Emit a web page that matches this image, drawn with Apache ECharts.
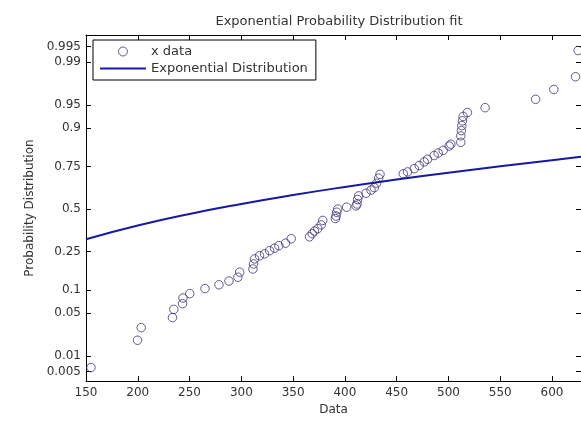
<!DOCTYPE html>
<html>
<head>
<meta charset="utf-8">
<script src="https://cdn.jsdelivr.net/npm/echarts@6/dist/echarts.min.js"></script>
<style>html,body{margin:0;padding:0;background:#fff;}#c{width:581px;height:421px;}</style>
</head>
<body>
<div id="c"></div>
<script>
// ---- data ----
const xData = [154.8,199.8,203.3,233.5,234.8,243.2,243.7,250.2,264.9,278.4,288.1,296.7,298.4,311.2,311.8,312.8,317.6,322.4,327.3,332.1,336.2,342.7,348.2,365.8,368.4,370.6,373.8,377.1,378.6,390.8,391.5,392.1,393.1,401.7,410.8,411.7,412.3,413.3,420.4,425.2,428.4,430.6,432.6,433.9,456.4,460.5,467.0,471.8,476.6,479.8,486.2,490.1,494.9,500.7,502.3,511.9,511.9,512.5,512.9,513.5,514.2,518.3,535.4,584.2,601.8,622.7,625.2];
const pData = [0.0060,0.0188,0.0301,0.0427,0.0559,0.0668,0.0793,0.0901,0.1038,0.1151,0.1271,0.1401,0.1587,0.1711,0.1922,0.2148,0.2296,0.2389,0.2546,0.2676,0.2810,0.2946,0.3192,0.3300,0.3483,0.3632,0.3783,0.4013,0.4286,0.4404,0.4562,0.4801,0.5000,0.512,0.520,0.532,0.560,0.583,0.599,0.618,0.633,0.659,0.688,0.709,0.712,0.722,0.739,0.755,0.773,0.785,0.802,0.813,0.824,0.841,0.848,0.855,0.877,0.893,0.907,0.919,0.929,0.937,0.946,0.959,0.971,0.982,0.994];
const curveX = [150,200,250,300,350,400,450,500,550,600,628];
const curveP = [0.316,0.397,0.469,0.532,0.588,0.637,0.680,0.718,0.751,0.781,0.796];
const xTicks = [150,200,250,300,350,400,450,500,550,600];
const yTickLabels = ['0.005','0.01','0.05','0.1','0.25','0.5','0.75','0.9','0.95','0.99','0.995'];
const xRange = [150, 628];
const pRange = [0.0032, 0.9971];

// normal-probability scale transform (inverse normal CDF, Acklam)
function norminv(p){
  const a=[-3.969683028665376e+01,2.209460984245205e+02,-2.759285104469687e+02,1.383577518672690e+02,-3.066479806614716e+01,2.506628277459239e+00];
  const b=[-5.447609879822406e+01,1.615858368580409e+02,-1.556989798598866e+02,6.680131188771972e+01,-1.328068155288572e+01];
  const c=[-7.784894002430293e-03,-3.223964580411365e-01,-2.400758277161838e+00,-2.549732940589068e+00,4.374664141464968e+00,2.938163982698783e+00];
  const d=[7.784695709041462e-03,3.224671290700398e-01,2.445134137142996e+00,3.754408661907416e+00];
  const pl=0.02425, ph=1-pl; let q,r;
  if(p<pl){q=Math.sqrt(-2*Math.log(p));return (((((c[0]*q+c[1])*q+c[2])*q+c[3])*q+c[4])*q+c[5])/((((d[0]*q+d[1])*q+d[2])*q+d[3])*q+1);}
  if(p<=ph){q=p-0.5;r=q*q;return (((((a[0]*r+a[1])*r+a[2])*r+a[3])*r+a[4])*r+a[5])*q/(((((b[0]*r+b[1])*r+b[2])*r+b[3])*r+b[4])*r+1);}
  q=Math.sqrt(-2*Math.log(1-p));return -(((((c[0]*q+c[1])*q+c[2])*q+c[3])*q+c[4])*q+c[5])/((((d[0]*q+d[1])*q+d[2])*q+d[3])*q+1);
}
const yTickZ = yTickLabels.map(s => norminv(parseFloat(s)));
function yLabel(v){
  for(let i=0;i<yTickZ.length;i++){ if(Math.abs(yTickZ[i]-v)<1e-6) return yTickLabels[i]; }
  return '';
}

const FONT = 'DejaVu Sans';
const TXT = '#333';
const MARK = '#3f2f78';
const LINE = '#1818a0';
const chart = echarts.init(document.getElementById('c'), null, {renderer:'canvas'});
const axisLine = {show:true, onZero:false, lineStyle:{color:'#000', width:1}};
chart.setOption({
  animation:false,
  backgroundColor:'#fff',
  title:{text:'Exponential Probability Distribution fit', left:334, top:10, textAlign:'center',
    textStyle:{fontFamily:FONT, fontSize:13, fontWeight:'normal', color:TXT}},
  legend:{
    orient:'vertical', left:93, top:40, padding:[5,8,5,7], itemGap:4,
    itemWidth:46, itemHeight:9,
    borderColor:'#000', borderWidth:1, backgroundColor:'#fff',
    textStyle:{fontFamily:FONT, fontSize:13, color:TXT},
    data:[
      {name:'x data', icon:'circle', itemStyle:{color:'rgba(0,0,0,0)', borderColor:MARK, borderWidth:1}},
      {name:'Exponential Distribution', icon:'path://M0,0H46V1.8H0Z', itemStyle:{color:LINE, borderWidth:0}}
    ]
  },
  grid:{left:86, top:35, width:497, height:350, containLabel:false},
  xAxis:[{
    type:'value', min:xRange[0], max:xRange[1], position:'bottom',
    name:'Data', nameLocation:'middle', nameGap:22,
    nameTextStyle:{fontFamily:FONT, fontSize:12, color:TXT},
    axisLine:axisLine,
    axisTick:{show:true, inside:true, length:5, customValues:xTicks, lineStyle:{color:'#000'}},
    axisLabel:{customValues:xTicks, margin:6, fontFamily:FONT, fontSize:12, color:TXT},
    splitLine:{show:false}
  },{
    type:'value', min:xRange[0], max:xRange[1], position:'top',
    axisLine:axisLine,
    axisTick:{show:true, inside:true, length:5, customValues:xTicks, lineStyle:{color:'#000'}},
    axisLabel:{show:false}, splitLine:{show:false}
  }],
  yAxis:[{
    type:'value', min:norminv(pRange[0]), max:norminv(pRange[1]), position:'left',
    name:'Probability Distribution', nameLocation:'middle', nameGap:46,
    nameTextStyle:{fontFamily:FONT, fontSize:12, color:TXT},
    axisLine:axisLine,
    axisTick:{show:true, inside:true, length:5, customValues:yTickZ, lineStyle:{color:'#000'}},
    axisLabel:{customValues:yTickZ, formatter:yLabel, margin:5, fontFamily:FONT, fontSize:12, color:TXT},
    splitLine:{show:false}
  },{
    type:'value', min:norminv(pRange[0]), max:norminv(pRange[1]), position:'right',
    axisLine:axisLine,
    axisTick:{show:true, inside:true, length:5, customValues:yTickZ, lineStyle:{color:'#000'}},
    axisLabel:{show:false}, splitLine:{show:false}
  }],
  series:[{
    name:'x data', type:'scatter', xAxisIndex:0, yAxisIndex:0,
    symbol:'circle', symbolSize:8.5,
    itemStyle:{color:'rgba(0,0,0,0)', borderColor:MARK, borderWidth:1},
    data:xData.map((x,i)=>[x, norminv(pData[i])])
  },{
    name:'Exponential Distribution', type:'line', xAxisIndex:0, yAxisIndex:0,
    smooth:true, showSymbol:false, symbol:'none',
    lineStyle:{color:LINE, width:2},
    itemStyle:{color:LINE},
    data:curveX.map((x,i)=>[x, norminv(curveP[i])])
  }]
});
</script>
</body>
</html>
